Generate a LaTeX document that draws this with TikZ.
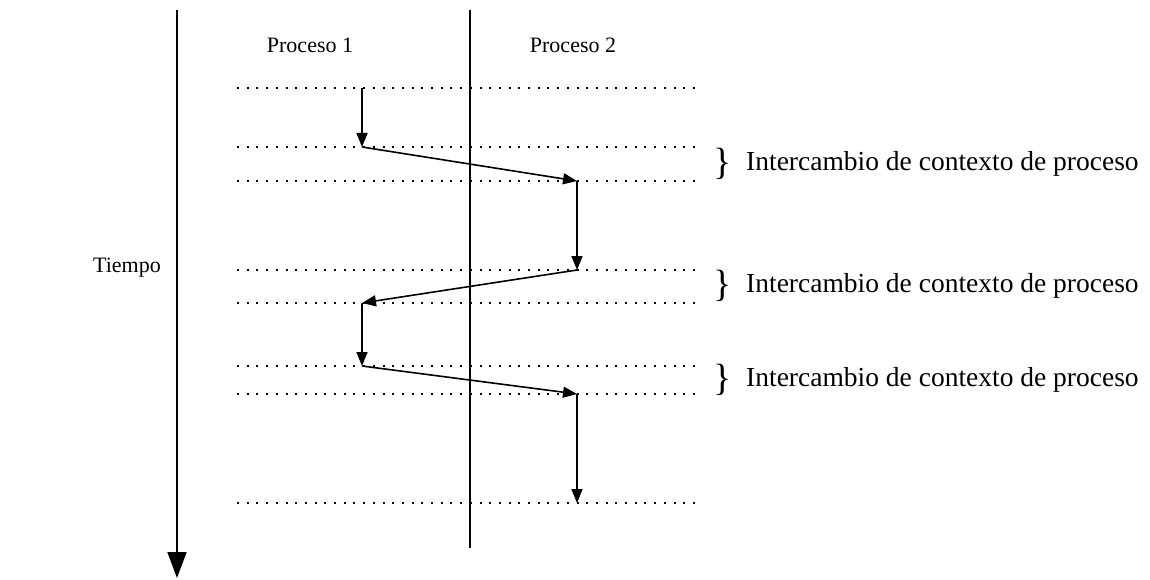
\documentclass[tikz,border=0pt]{standalone}
\usepackage{fontspec}
\setmainfont{Liberation Serif}
\usetikzlibrary{arrows.meta}
\begin{document}
\begin{tikzpicture}[x=1pt,y=-1pt,
  flow/.style={line width=1.6pt,-{Triangle[length=14pt,width=11pt]}},
  axis/.style={line width=1.8pt,-{Triangle[length=26pt,width=19pt]}},
  rule/.style={line width=1.5pt},
  tick/.style={line width=1.6pt,dash pattern=on 2pt off 7.7pt},
  lbl/.style={inner sep=0pt,font=\fontsize{22}{26}\selectfont},
  note/.style={inner sep=0pt,anchor=west,font=\fontsize{27.5}{32}\selectfont},
  brace/.style={inner sep=0pt,font=\fontsize{38}{42}\selectfont}]
\useasboundingbox (0,0) rectangle (1150,580);

% time axis and process divider
\coordinate (t0) at (177,10);
\coordinate (t1) at (177,578);
\draw[axis] (t0) -- (t1);
\coordinate (d0) at (470,10);
\coordinate (d1) at (470,548);
\draw[rule] (d0) -- (d1);

\node[lbl] (tiempo) at (127,268) {Tiempo};
\node[lbl] (p1) at (310,45) {Proceso 1};
\node[lbl] (p2) at (573,45) {Proceso 2};

% dotted time marks
\foreach \i/\y in {1/88,2/147,3/181,4/270,5/303,6/366,7/394,8/503}{
  \coordinate (l\i) at (237,\y);
  \coordinate (r\i) at (697,\y);
  \draw[tick] (l\i) -- (r\i);
}

% execution flow
\coordinate (a1) at (362,88);
\coordinate (a2) at (362,147);
\coordinate (b3) at (577,181);
\coordinate (b4) at (577,270);
\coordinate (a5) at (362,303);
\coordinate (a6) at (362,366);
\coordinate (b7) at (577,394);
\coordinate (b8) at (577,503);
\draw[flow] (a1) -- (a2);
\draw[flow] (a2) -- (b3);
\draw[flow] (b3) -- (b4);
\draw[flow] (b4) -- (a5);
\draw[flow] (a5) -- (a6);
\draw[flow] (a6) -- (b7);
\draw[flow] (b7) -- (b8);

% context switch annotations
\foreach \k/\y in {1/164,2/286,3/380}{
  \node[brace] (br\k) at (723,\y) {\}};
  \node[note] (cx\k) at (746,\y) {Intercambio de contexto de proceso};
}
\end{tikzpicture}
\end{document}
